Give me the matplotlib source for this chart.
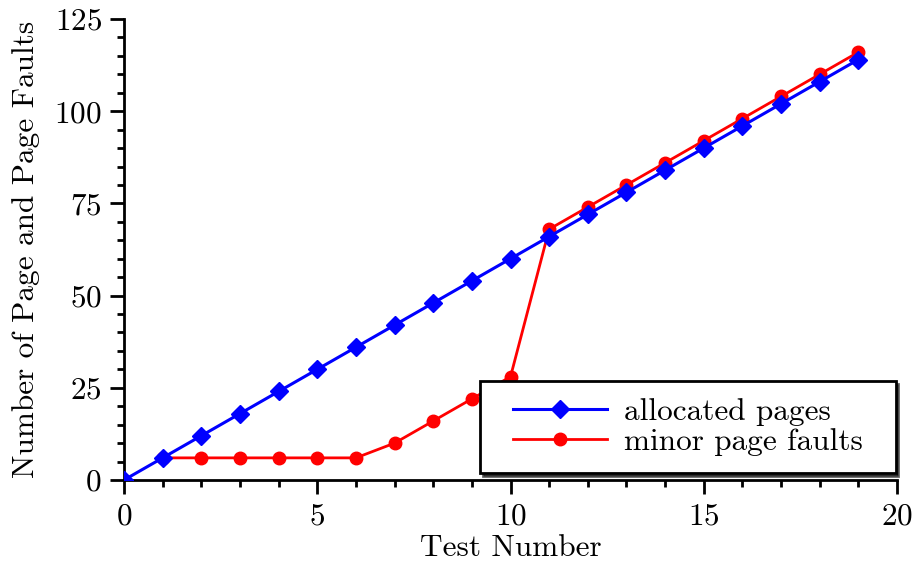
import matplotlib
matplotlib.use('Agg')
import matplotlib.pyplot as plt
from matplotlib.path import Path
from matplotlib.ticker import MultipleLocator

plt.rcParams['font.family'] = 'serif'
plt.rcParams['font.serif'] = ['cmr10', 'DejaVu Serif']
plt.rcParams['mathtext.fontset'] = 'cm'
plt.rcParams['axes.formatter.use_mathtext'] = True

tests = list(range(20))
allocated = [0, 6, 12, 18, 24, 30, 36, 42, 48, 54, 60, 66, 72, 78, 84, 90, 96, 102, 108, 114]
faults_x = list(range(1, 20))
faults = [6, 6, 6, 6, 6, 6, 10, 16, 22, 28, 68, 74, 80, 86, 92, 98, 104, 110, 116]


def wide_box(x0, y0, width, height, mutation_size):
    # legend frame with extra padding left and right only
    dx = 0.5 * mutation_size
    x0, x1 = x0 - dx, x0 + width + dx
    y1 = y0 + height
    return Path([(x0, y0), (x1, y0), (x1, y1), (x0, y1), (x0, y0)], closed=True)


fig = plt.figure(figsize=(9.14, 5.7), dpi=100)
ax = fig.add_axes([0.1357, 0.1579, 0.8457, 0.8088])

ax.plot(faults_x, faults, color='red', lw=2, marker='o', ms=9, label='minor page faults', zorder=3)
ax.plot(tests, allocated, color='blue', lw=2.2, marker='D', ms=9, label='allocated pages', zorder=4)

ax.set_xlim(0, 20)
ax.set_ylim(0, 125)
ax.xaxis.set_major_locator(MultipleLocator(5))
ax.xaxis.set_minor_locator(MultipleLocator(1))
ax.yaxis.set_major_locator(MultipleLocator(25))
ax.yaxis.set_minor_locator(MultipleLocator(5))
ax.spines['top'].set_visible(False)
ax.spines['right'].set_visible(False)
for s in ('left', 'bottom'):
    ax.spines[s].set_linewidth(2)
ax.tick_params(which='major', direction='out', length=10, width=2, labelsize=22.5, pad=6)
ax.tick_params(which='minor', direction='out', length=5, width=2)

ax.set_xlabel('Test Number', fontsize=22.5, labelpad=3)
ax.set_ylabel('Number of Page and Page Faults', fontsize=22.5, labelpad=10)

h, l = ax.get_legend_handles_labels()
leg = ax.legend(h[::-1], l[::-1], loc='lower right', bbox_to_anchor=(0.978, 0.015),
                bbox_transform=ax.transAxes, fontsize=22.5, fancybox=False,
                shadow={'color': 'black', 'alpha': 0.6}, framealpha=1,
                borderpad=0.55, handlelength=3, handletextpad=0.55, labelspacing=0.05,
                borderaxespad=0)
leg.get_frame().set_edgecolor('black')
leg.get_frame().set_linewidth(2)
leg.get_frame().set_boxstyle(wide_box)

fig.savefig('out.png', dpi=100)
